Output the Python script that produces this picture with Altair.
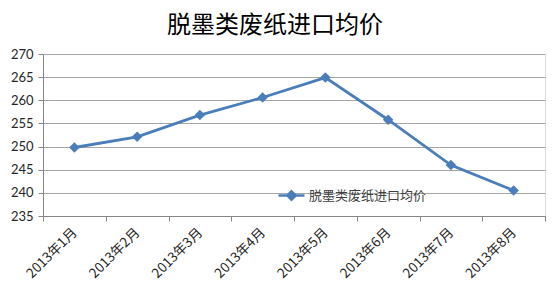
import altair as alt
import pandas as pd

months = ["2013年1月", "2013年2月", "2013年3月", "2013年4月",
          "2013年5月", "2013年6月", "2013年7月", "2013年8月"]
prices = [249.8, 252.1, 256.8, 260.6, 264.9, 255.8, 246.0, 240.5]
series_name = "脱墨类废纸进口均价"
y_ticks = [235, 240, 245, 250, 255, 260, 265, 270]

df = pd.DataFrame({"month": months, "price": prices, "series": [series_name] * len(months)})

BLUE = "#4a7ebb"
CJK = "Noto Sans CJK SC"

color = alt.Color(
    "series:N",
    scale=alt.Scale(range=[BLUE]),
    legend=alt.Legend(
        title=None,
        orient="none",
        legendX=234,
        legendY=127,
        padding=0,
        symbolType="M-1,0L1,0M0,-0.32L0.32,0L0,0.32L-0.32,0Z",
        symbolSize=676,
        symbolStrokeWidth=2.5,
        symbolFillColor=BLUE,
        symbolStrokeColor=BLUE,
        labelFont=CJK,
        labelFontSize=13,
        labelColor="#404040",
        labelOffset=3,
    ),
)

x = alt.X(
    "month:N",
    sort=months,
    title=None,
    scale=alt.Scale(paddingInner=0, paddingOuter=0),
    axis=alt.Axis(
        tickBand="extent",
        labelAngle=-45,
        labelAlign="right",
        labelBaseline="middle",
        labelFont=CJK,
        labelFontSize=13.5,
        labelColor="#262626",
        labelPadding=9,
        tickSize=5,
        tickColor="#868686",
        domainColor="#868686",
        grid=False,
    ),
)
y = alt.Y(
    "price:Q",
    title=None,
    scale=alt.Scale(domain=[235, 270], nice=False, zero=False),
    axis=alt.Axis(
        values=y_ticks,
        labelFont="Lato",
        labelFontSize=13,
        labelColor="#262626",
        labelPadding=5,
        tickSize=5,
        tickColor="#868686",
        domainColor="#868686",
        gridColor="#a6a6a6",
        gridWidth=1,
    ),
)

base = alt.Chart(df)
line = base.mark_line(strokeWidth=2.8).encode(x=x, y=y, color=color)
pts = base.mark_point(shape="diamond", filled=True, size=110, opacity=1).encode(x=x, y=y, color=color)

chart = (
    alt.layer(line, pts)
    .properties(
        width=502,
        height=162,
        title=alt.TitleParams(
            series_name,
            font=CJK,
            fontSize=24,
            fontWeight="normal",
            color="#000000",
            anchor="middle",
            dx=-19,
            offset=10,
        ),
        autosize=alt.AutoSizeParams(type="none"),
        padding={"left": 43, "top": 54, "right": 9, "bottom": 67},
    )
    .configure_view(stroke=None)
    .configure(background="white")
)

chart.save("out.html", embed_options={"renderer": "svg", "actions": False})
